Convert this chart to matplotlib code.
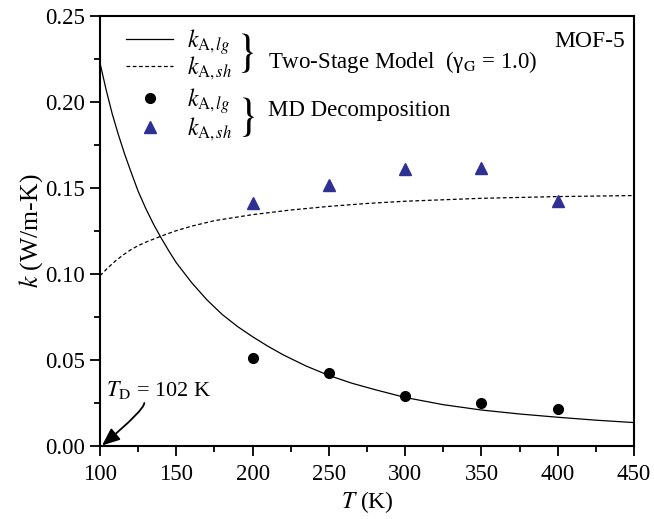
import numpy as np
import matplotlib
matplotlib.use('Agg')
import matplotlib.pyplot as plt

plt.rcParams['font.family'] = ['Liberation Serif', 'DejaVu Serif']
plt.rcParams['mathtext.fontset'] = 'stix'

# two-stage model curves
T_lg = [100, 104, 108, 112, 116, 120, 125, 130, 135, 140, 145, 150, 160, 170, 180, 190, 200,
        210, 220, 235, 250, 265, 280, 300, 325, 350, 375, 400, 425, 450]
k_lg = [0.2225, 0.207, 0.193, 0.181, 0.170, 0.160, 0.148, 0.138, 0.129, 0.121, 0.1135, 0.1065,
        0.0950, 0.0850, 0.0765, 0.0695, 0.0635, 0.0580, 0.0530, 0.0465, 0.0410, 0.0365, 0.0328,
        0.0282, 0.0240, 0.0209, 0.0186, 0.0167, 0.0150, 0.0136]
T_sh = [100, 105, 110, 115, 120, 125, 130, 140, 150, 160, 175, 200, 225, 250, 275, 300, 350, 400, 450]
k_sh = [0.099, 0.1035, 0.1075, 0.111, 0.114, 0.1165, 0.1185, 0.122, 0.1252, 0.1278, 0.1310,
        0.1345, 0.1372, 0.1393, 0.1410, 0.1423, 0.1440, 0.1450, 0.1456]

# MD decomposition
T_md = [200, 250, 300, 350, 400]
k_md_lg = [0.051, 0.0423, 0.0293, 0.0252, 0.0213]
k_md_sh = [0.1415, 0.1517, 0.1609, 0.1618, 0.1426]

fig = plt.figure(figsize=(6.54, 5.19), dpi=100)
ax = fig.add_axes([0.153, 0.1407, 0.8165, 0.8285])

l1, = ax.plot(T_lg, k_lg, color='black', lw=0.9)
l2, = ax.plot(T_sh, k_sh, color='black', lw=0.9, ls=(0, (3, 2)))
m1, = ax.plot(T_md, k_md_lg, 'o', color='black', ms=7, ls='none')
m2, = ax.plot(T_md, k_md_sh, '^', color='#2e3192', ms=8.5, ls='none')

ax.set_xlim(100, 450)
ax.set_ylim(0, 0.25)
ax.set_xticks([100, 150, 200, 250, 300, 350, 400, 450])
ax.set_yticks([0, 0.05, 0.10, 0.15, 0.20, 0.25])
ax.set_yticklabels(['0.00', '0.05', '0.10', '0.15', '0.20', '0.25'])
ax.set_xticks(np.arange(125, 450, 50), minor=True)
ax.set_yticks(np.arange(0.025, 0.25, 0.05), minor=True)
ax.tick_params(which='both', direction='out', top=False, right=False, labelsize=16.5, width=1.3)
ax.tick_params(which='major', length=7)
ax.tick_params(which='minor', length=4)
ax.tick_params(axis='y', which='major', pad=3.6)
ax.tick_params(axis='x', which='major', pad=6)
for s in ax.spines.values():
    s.set_linewidth(1.5)

ax.set_xlabel(r'$T$ (K)', fontsize=17, labelpad=3)
ax.set_ylabel(r'$k$ (W/m-K)', fontsize=18.5, labelpad=0.5)

lab_lg = r'$k_{\mathrm{A},lg}$'
lab_sh = r'$k_{\mathrm{A},sh}$'
leg1 = ax.legend([l1, l2], [lab_lg, lab_sh], loc='upper left', bbox_to_anchor=(0.0487, 0.974),
                 frameon=False, fontsize=17, handlelength=2.0, handletextpad=0.6,
                 labelspacing=-0.08, borderpad=0, borderaxespad=0)
ax.add_artist(leg1)
ax.legend([m1, m2], [lab_lg, lab_sh], loc='upper left', bbox_to_anchor=(0.0487, 0.837),
          frameon=False, fontsize=17, handlelength=2.0, handletextpad=0.6,
          labelspacing=0.0, borderpad=0, borderaxespad=0)

ax.text(0.273, 0.914, '}', transform=ax.transAxes, fontsize=33, va='center', ha='center',
        family='STIXGeneral')
ax.text(0.276, 0.765, '}', transform=ax.transAxes, fontsize=33, va='center', ha='center',
        family='STIXGeneral')
ax.text(0.315, 0.893, r'Two-Stage Model  (γ$_{\mathrm{G}}$ = 1.0)', transform=ax.transAxes,
        fontsize=16.5, va='center', ha='left')
ax.text(0.315, 0.781, 'MD Decomposition', transform=ax.transAxes, fontsize=16.5, va='center', ha='left')
ax.text(0.983, 0.94, 'MOF-5', transform=ax.transAxes, fontsize=17, va='center', ha='right')

ax.annotate(r'$T_{\mathrm{D}}$ = 102 K', xy=(101.5, 0.0), xytext=(104, 0.0326),
            fontsize=16, va='center', ha='left')
ax.annotate('', xy=(101.3, 0.0003), xytext=(129, 0.025),
            arrowprops=dict(arrowstyle='-|>,head_length=0.6,head_width=0.25', color='black',
                            lw=1.3, mutation_scale=18, shrinkA=0, shrinkB=0,
                            connectionstyle='angle3,angleA=90,angleB=40'),
            annotation_clip=False)

fig.savefig('out.png', dpi=100)
